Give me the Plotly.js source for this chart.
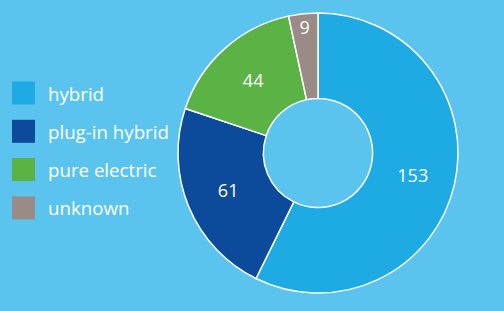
<!DOCTYPE html>
<html>
<head>
<meta charset="utf-8">
<script src="https://cdn.plot.ly/plotly-3.0.1.min.js"></script>
<style>
html,body{margin:0;padding:0;background:#5ac4ee;}
#chart{width:504px;height:311px;}
</style>
</head>
<body>
<div id="chart"></div>
<script>
const categories = ["hybrid", "plug-in hybrid", "pure electric", "unknown"];
const values = [153, 61, 44, 9];
const colors = ["#1eabe3", "#0c4b9b", "#5bb345", "#9a8b86"];

const bg = "#5ac4ee";
const fontFamily = "'Open Sans', Lato, sans-serif";

const trace = {
  type: "pie",
  labels: categories,
  values: values,
  hole: 0.39,
  sort: false,
  direction: "clockwise",
  rotation: 0,
  marker: {colors: colors, line: {color: "#ffffff", width: 1.5}},
  textinfo: "value",
  textposition: "inside",
  insidetextorientation: "horizontal",
  textfont: {color: "#ffffff", size: 18, family: fontFamily},
  hoverinfo: "label+value",
  showlegend: false,
  domain: {x: [178/504, 458/504], y: [18/311, 298/311]}
};

// Legend built from the category / color arrays
const legendTop = 93, legendStep = 38.3, sq = 23;
const shapes = categories.map((c, i) => {
  const cy = legendTop + i * legendStep;
  return {
    type: "rect", xref: "paper", yref: "paper", layer: "above",
    x0: 12/504, x1: (12+sq)/504,
    y0: 1 - (cy + sq/2)/311, y1: 1 - (cy - sq/2)/311,
    fillcolor: colors[i], line: {width: 0}
  };
});
const annotations = categories.map((c, i) => {
  const cy = legendTop + i * legendStep;
  return {
    text: c, xref: "paper", yref: "paper",
    x: 46/504, y: 1 - cy/311, xanchor: "left", yanchor: "middle",
    showarrow: false, font: {color: "#ffffff", size: 18.7, family: fontFamily}
  };
});

const layout = {
  width: 504, height: 311,
  margin: {l: 0, r: 0, t: 0, b: 0},
  paper_bgcolor: bg, plot_bgcolor: bg,
  showlegend: false,
  shapes: shapes,
  annotations: annotations
};

Plotly.newPlot("chart", [trace], layout, {displayModeBar: false, staticPlot: true});
</script>
</body>
</html>
